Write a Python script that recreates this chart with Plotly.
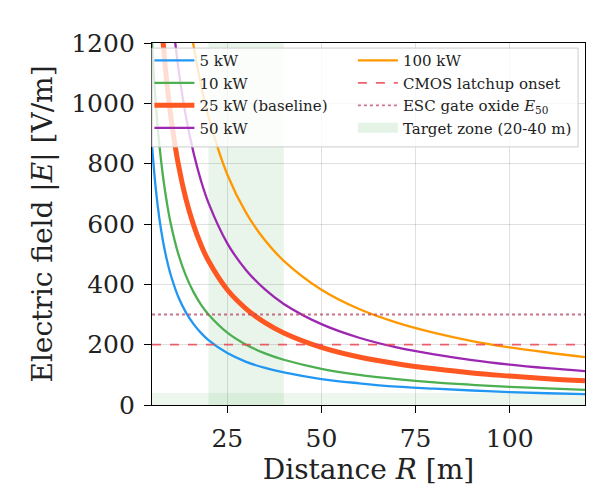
import plotly.graph_objects as go

# Distance samples [m]
distance_m = [5, 6, 7, 8, 9, 10, 12, 14, 16, 18, 20, 25, 30, 35, 40, 50, 60, 70, 80, 90, 100, 110, 120]

# |E| [V/m]
e_5kw = [860, 717, 614, 538, 478, 430, 358, 307, 269, 239, 215, 172, 143, 123, 108, 86, 72, 61, 54, 48, 43, 39, 36]
e_10kw = [1200, 1000, 857, 750, 667, 600, 500, 429, 375, 333, 300, 240, 200, 171, 150, 120, 100, 86, 75, 67, 60, 55, 50]
e_25kw = [1912, 1593, 1366, 1195, 1062, 956, 797, 683, 598, 531, 478, 382, 319, 273, 239, 191, 159, 137, 120, 106, 96, 87, 80]
e_50kw = [2680, 2233, 1914, 1675, 1489, 1340, 1117, 957, 838, 744, 670, 536, 447, 383, 335, 268, 223, 191, 168, 149, 134, 122, 112]
e_100kw = [3820, 3183, 2729, 2388, 2122, 1910, 1592, 1364, 1194, 1061, 955, 764, 637, 546, 478, 382, 318, 273, 239, 212, 191, 174, 159]

series_names = ["5 kW", "10 kW", "25 kW (baseline)", "50 kW", "100 kW"]
series_values = [e_5kw, e_10kw, e_25kw, e_50kw, e_100kw]
series_colors = ["#2196F3", "#4CAF50", "#FF5722", "#9C27B0", "#FF9800"]
series_widths = [2.3, 2.3, 5, 2.3, 2.3]
# two legend columns: first four curves left, everything else right
series_legend = ["legend", "legend", "legend", "legend", "legend2"]

latchup_level = 200
gate_oxide_level = 300
target_zone = [20, 40]
bottom_band = [0, 40]
x_range = [5, 120]
y_range = [0, 1200]

fig = go.Figure()

# shaded target zone + the faint strip along the bottom
fig.add_shape(type="rect", xref="x", yref="y", x0=target_zone[0], x1=target_zone[1],
              y0=y_range[0], y1=y_range[1], fillcolor="rgba(76,175,80,0.12)",
              line_width=0, layer="below")
fig.add_shape(type="rect", xref="x", yref="y", x0=x_range[0], x1=x_range[1],
              y0=bottom_band[0], y1=bottom_band[1], fillcolor="rgba(76,175,80,0.10)",
              line_width=0, layer="below")

for name, vals, col, w, lg in zip(series_names, series_values, series_colors, series_widths, series_legend):
    fig.add_trace(go.Scatter(x=distance_m, y=vals, mode="lines", name=name,
                             line=dict(color=col, width=w, shape="spline"),
                             legend=lg))

fig.add_trace(go.Scatter(x=x_range, y=[latchup_level] * 2, mode="lines",
                         name="CMOS latchup onset", legend="legend2",
                         line=dict(color="rgba(235,70,85,0.85)", width=1.8, dash="dash")))
fig.add_trace(go.Scatter(x=x_range, y=[gate_oxide_level] * 2, mode="lines",
                         name="ESC gate oxide <i>E</i><sub>50</sub>", legend="legend2",
                         line=dict(color="rgba(185,70,100,0.75)", width=1.8, dash="dot")))
# legend proxy for the shaded zone (thick line looks like a patch)
fig.add_trace(go.Scatter(x=[None, None], y=[None, None], mode="lines",
                         name="Target zone (20-40 m)", legend="legend2",
                         line=dict(color="rgba(76,175,80,0.15)", width=14)))

# one frame behind both legend columns, fades the curves under it
fig.add_shape(type="rect", xref="paper", yref="paper", x0=0.0, x1=0.984, y0=0.713, y1=0.986,
              fillcolor="rgba(255,255,255,0.8)", line=dict(color="#cccccc", width=1),
              layer="above")

axis_common = dict(showline=True, linecolor="black", linewidth=1.3, mirror=True,
                   ticks="outside", ticklen=7, tickwidth=1.3, tickcolor="black",
                   ticklabelstandoff=4,
                   showgrid=True, gridcolor="rgba(0,0,0,0.12)", gridwidth=1,
                   zeroline=False, tickfont=dict(size=25, color="#222"))

legend_common = dict(yanchor="top", xanchor="left", bgcolor="rgba(0,0,0,0)", borderwidth=0,
                     font=dict(size=15), itemwidth=40, traceorder="normal")

fig.update_layout(
    width=597, height=486,
    margin=dict(l=144, r=20, t=35, b=89),
    plot_bgcolor="white", paper_bgcolor="white",
    font=dict(family="DejaVu Serif", color="#222"),
    xaxis=dict(range=x_range, tickvals=[25, 50, 75, 100],
               title=dict(text="Distance <i>R</i> [m]", font=dict(size=28), standoff=4),
               **axis_common),
    yaxis=dict(range=y_range, tickvals=[0, 200, 400, 600, 800, 1000, 1200],
               title=dict(text="Electric field |<i>E</i>| [V/m]", font=dict(size=28), standoff=10),
               **axis_common),
    legend=dict(x=-0.006, y=0.997, **legend_common),
    legend2=dict(x=0.464, y=0.997, **legend_common),
    showlegend=True,
)

fig.write_html("out.html")
